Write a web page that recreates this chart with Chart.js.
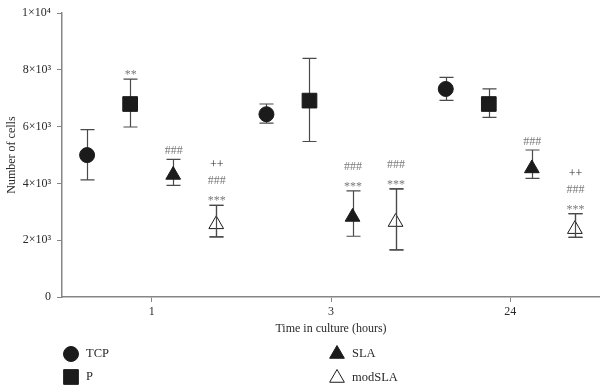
<!DOCTYPE html>
<html lang="en">
	<head>
		<meta charset="utf-8">
		<title>Number of cells over time in culture</title>
		<script src="https://cdnjs.cloudflare.com/ajax/libs/Chart.js/4.4.1/chart.umd.min.js"></script>
		<style>
			html, body { margin: 0; padding: 0; background: #fff; }
			#wrap { width: 600px; height: 387px; }
		</style>
	</head>
	<body>
		<script>
			// chart values
			const groups = ["1", "3", "24"]
			const seriesNames = ["TCP", "P", "SLA", "modSLA"]
			const yTickLabels = ["0", "2×10³", "4×10³", "6×10³", "8×10³", "1×10⁴"]

			const tcpMean = [5000, 6440, 7330]
			const tcpUpper = [5900, 6800, 7740]
			const tcpLower = [4130, 6130, 6930]

			const pMean = [6800, 6920, 6800]
			const pUpper = [7680, 8410, 7330]
			const pLower = [5990, 5480, 6330]

			const slaMean = [4300, 2820, 4530]
			const slaUpper = [4850, 3740, 5180]
			const slaLower = [3930, 2140, 4180]

			const modSlaMean = [2560, 2640, 2390]
			const modSlaUpper = [3230, 3810, 2940]
			const modSlaLower = [2120, 1660, 2100]

			// significance marks, top line first
			const tcpMarks = [[], [], []]
			const pMarks = [["**"], [], []]
			const slaMarks = [["###"], ["###", "***"], ["###"]]
			const modSlaMarks = [["++", "###", "***"], ["###", "***"], ["++", "###", "***"]]
		</script>
		<div id="wrap"><canvas id="chart"></canvas></div>
		<script>
			const FONT = "'Liberation Serif', 'DejaVu Serif', serif"
			const AXIS = "#858585"
			const INK = "#1b1b1b"
			const dodge = [-0.36, -0.12, 0.12, 0.36]

			const series = [
				{mean: tcpMean, upper: tcpUpper, lower: tcpLower, marks: tcpMarks, style: "circle", radius: 7.5, fill: INK},
				{mean: pMean, upper: pUpper, lower: pLower, marks: pMarks, style: "rect", radius: 10.4, fill: INK},
				{mean: slaMean, upper: slaUpper, lower: slaLower, marks: slaMarks, style: "triangle", radius: 8.5, fill: INK},
				{mean: modSlaMean, upper: modSlaUpper, lower: modSlaLower, marks: modSlaMarks, style: "triangle", radius: 8.5, fill: "#fff"}
			]

			const datasets = series.map((s, i) => ({
				label: seriesNames[i],
				data: s.mean.map((v, j) => ({x: j + dodge[i], y: v})),
				pointStyle: s.style,
				pointRadius: s.radius,
				pointHoverRadius: s.radius,
				pointBackgroundColor: s.fill,
				pointBorderColor: INK,
				pointBorderWidth: 1,
				showLine: false
			}))

			function drawBars(chart, onlyOpen) {
				const ctx = chart.ctx, xs = chart.scales.x, ys = chart.scales.y
				ctx.save()
				ctx.strokeStyle = "#4a4a4a"
				ctx.lineWidth = 1.2
				series.forEach((s, i) => {
					if (onlyOpen && s.fill == INK) return
					s.mean.forEach((v, j) => {
						const x = Math.round(xs.getPixelForValue(j + dodge[i])) + 0.5
						const top = ys.getPixelForValue(s.upper[j])
						const bot = ys.getPixelForValue(s.lower[j])
						ctx.beginPath()
						ctx.moveTo(x, top); ctx.lineTo(x, bot)
						ctx.moveTo(x - 7, top); ctx.lineTo(x + 7, top)
						ctx.moveTo(x - 7, bot); ctx.lineTo(x + 7, bot)
						ctx.stroke()
					})
				})
				ctx.restore()
			}

			// bars under the filled markers, but over the open triangles
			const errorBars = {
				id: "errorBars",
				beforeDatasetsDraw(chart) { drawBars(chart, false) },
				afterDatasetsDraw(chart) {
					drawBars(chart, true)
					const ctx = chart.ctx, xs = chart.scales.x, ys = chart.scales.y
					ctx.save()
					ctx.font = "12px " + FONT
					ctx.textAlign = "center"
					ctx.textBaseline = "alphabetic"
					series.forEach((s, i) => {
						s.marks.forEach((lines, j) => {
							const x = xs.getPixelForValue(j + dodge[i])
							let y = ys.getPixelForValue(s.upper[j]) - 5
							for (let k = lines.length - 1; k >= 0; k--) {
								ctx.fillStyle = lines[k] == "++" ? "#2a2a2a" : "#7a7a7a"
								ctx.fillText(lines[k], x + 0.5, y + (lines[k].startsWith("*") ? 4 : 0))
								y -= 16
							}
						})
					})
					ctx.restore()
				}
			}

			const legendBox = {
				id: "legendBox",
				afterDraw(chart) {
					const ctx = chart.ctx
					const slots = [[71, 354], [71, 377], [337, 354], [337, 378]]
					ctx.save()
					ctx.font = "12.5px " + FONT
					ctx.textBaseline = "middle"
					series.forEach((s, i) => {
						const [x, y] = slots[i]
						ctx.fillStyle = s.fill
						ctx.strokeStyle = INK
						ctx.lineWidth = 1
						Chart.helpers.drawPoint(ctx, {pointStyle: s.style, radius: s.radius, rotation: 0, borderWidth: 1}, x, y)
						ctx.fillStyle = "#2a2a2a"
						ctx.fillText(seriesNames[i], x + 15, y)
					})
					ctx.restore()
				}
			}

			new Chart(document.getElementById("chart"), {
				type: "scatter",
				data: {datasets: datasets},
				plugins: [errorBars, legendBox],
				options: {
					responsive: true,
					maintainAspectRatio: false,
					animation: false,
					layout: {autoPadding: false, padding: {top: 10, right: 0, bottom: 48, left: 0}},
					plugins: {
						legend: {display: false},
						tooltip: {enabled: false}
					},
					scales: {
						x: {
							type: "linear",
							min: -0.5,
							max: 2.5,
							afterBuildTicks: scale => { scale.ticks = groups.map((g, j) => ({value: j})) },
							afterFit: scale => { scale.height = 42 },
							ticks: {
								callback: (v, idx) => groups[idx],
								color: "#2a2a2a",
								font: {family: FONT, size: 12},
								padding: 3,
								maxRotation: 0
							},
							grid: {drawOnChartArea: false, drawTicks: true, tickLength: 5, color: AXIS, lineWidth: 1},
							border: {color: AXIS, width: 1.5},
							title: {
								display: true,
								text: "Time in culture (hours)",
								color: "#2a2a2a",
								font: {family: FONT, size: 12},
								padding: {top: 2, bottom: 3}
							}
						},
						y: {
							min: 0,
							max: 10000,
							afterFit: scale => { scale.width = 62 },
							ticks: {
								stepSize: 2000,
								callback: (v, idx) => yTickLabels[idx],
								color: "#2a2a2a",
								font: {family: FONT, size: 12},
								padding: 6
							},
							grid: {drawOnChartArea: false, drawTicks: true, tickLength: 5, color: AXIS, lineWidth: 1},
							border: {color: AXIS, width: 1.5},
							title: {
								display: true,
								text: "Number of cells",
								color: "#2a2a2a",
								font: {family: FONT, size: 12},
								padding: {top: 5, bottom: 0}
							}
						}
					}
				}
			})
		</script>
	</body>
</html>
